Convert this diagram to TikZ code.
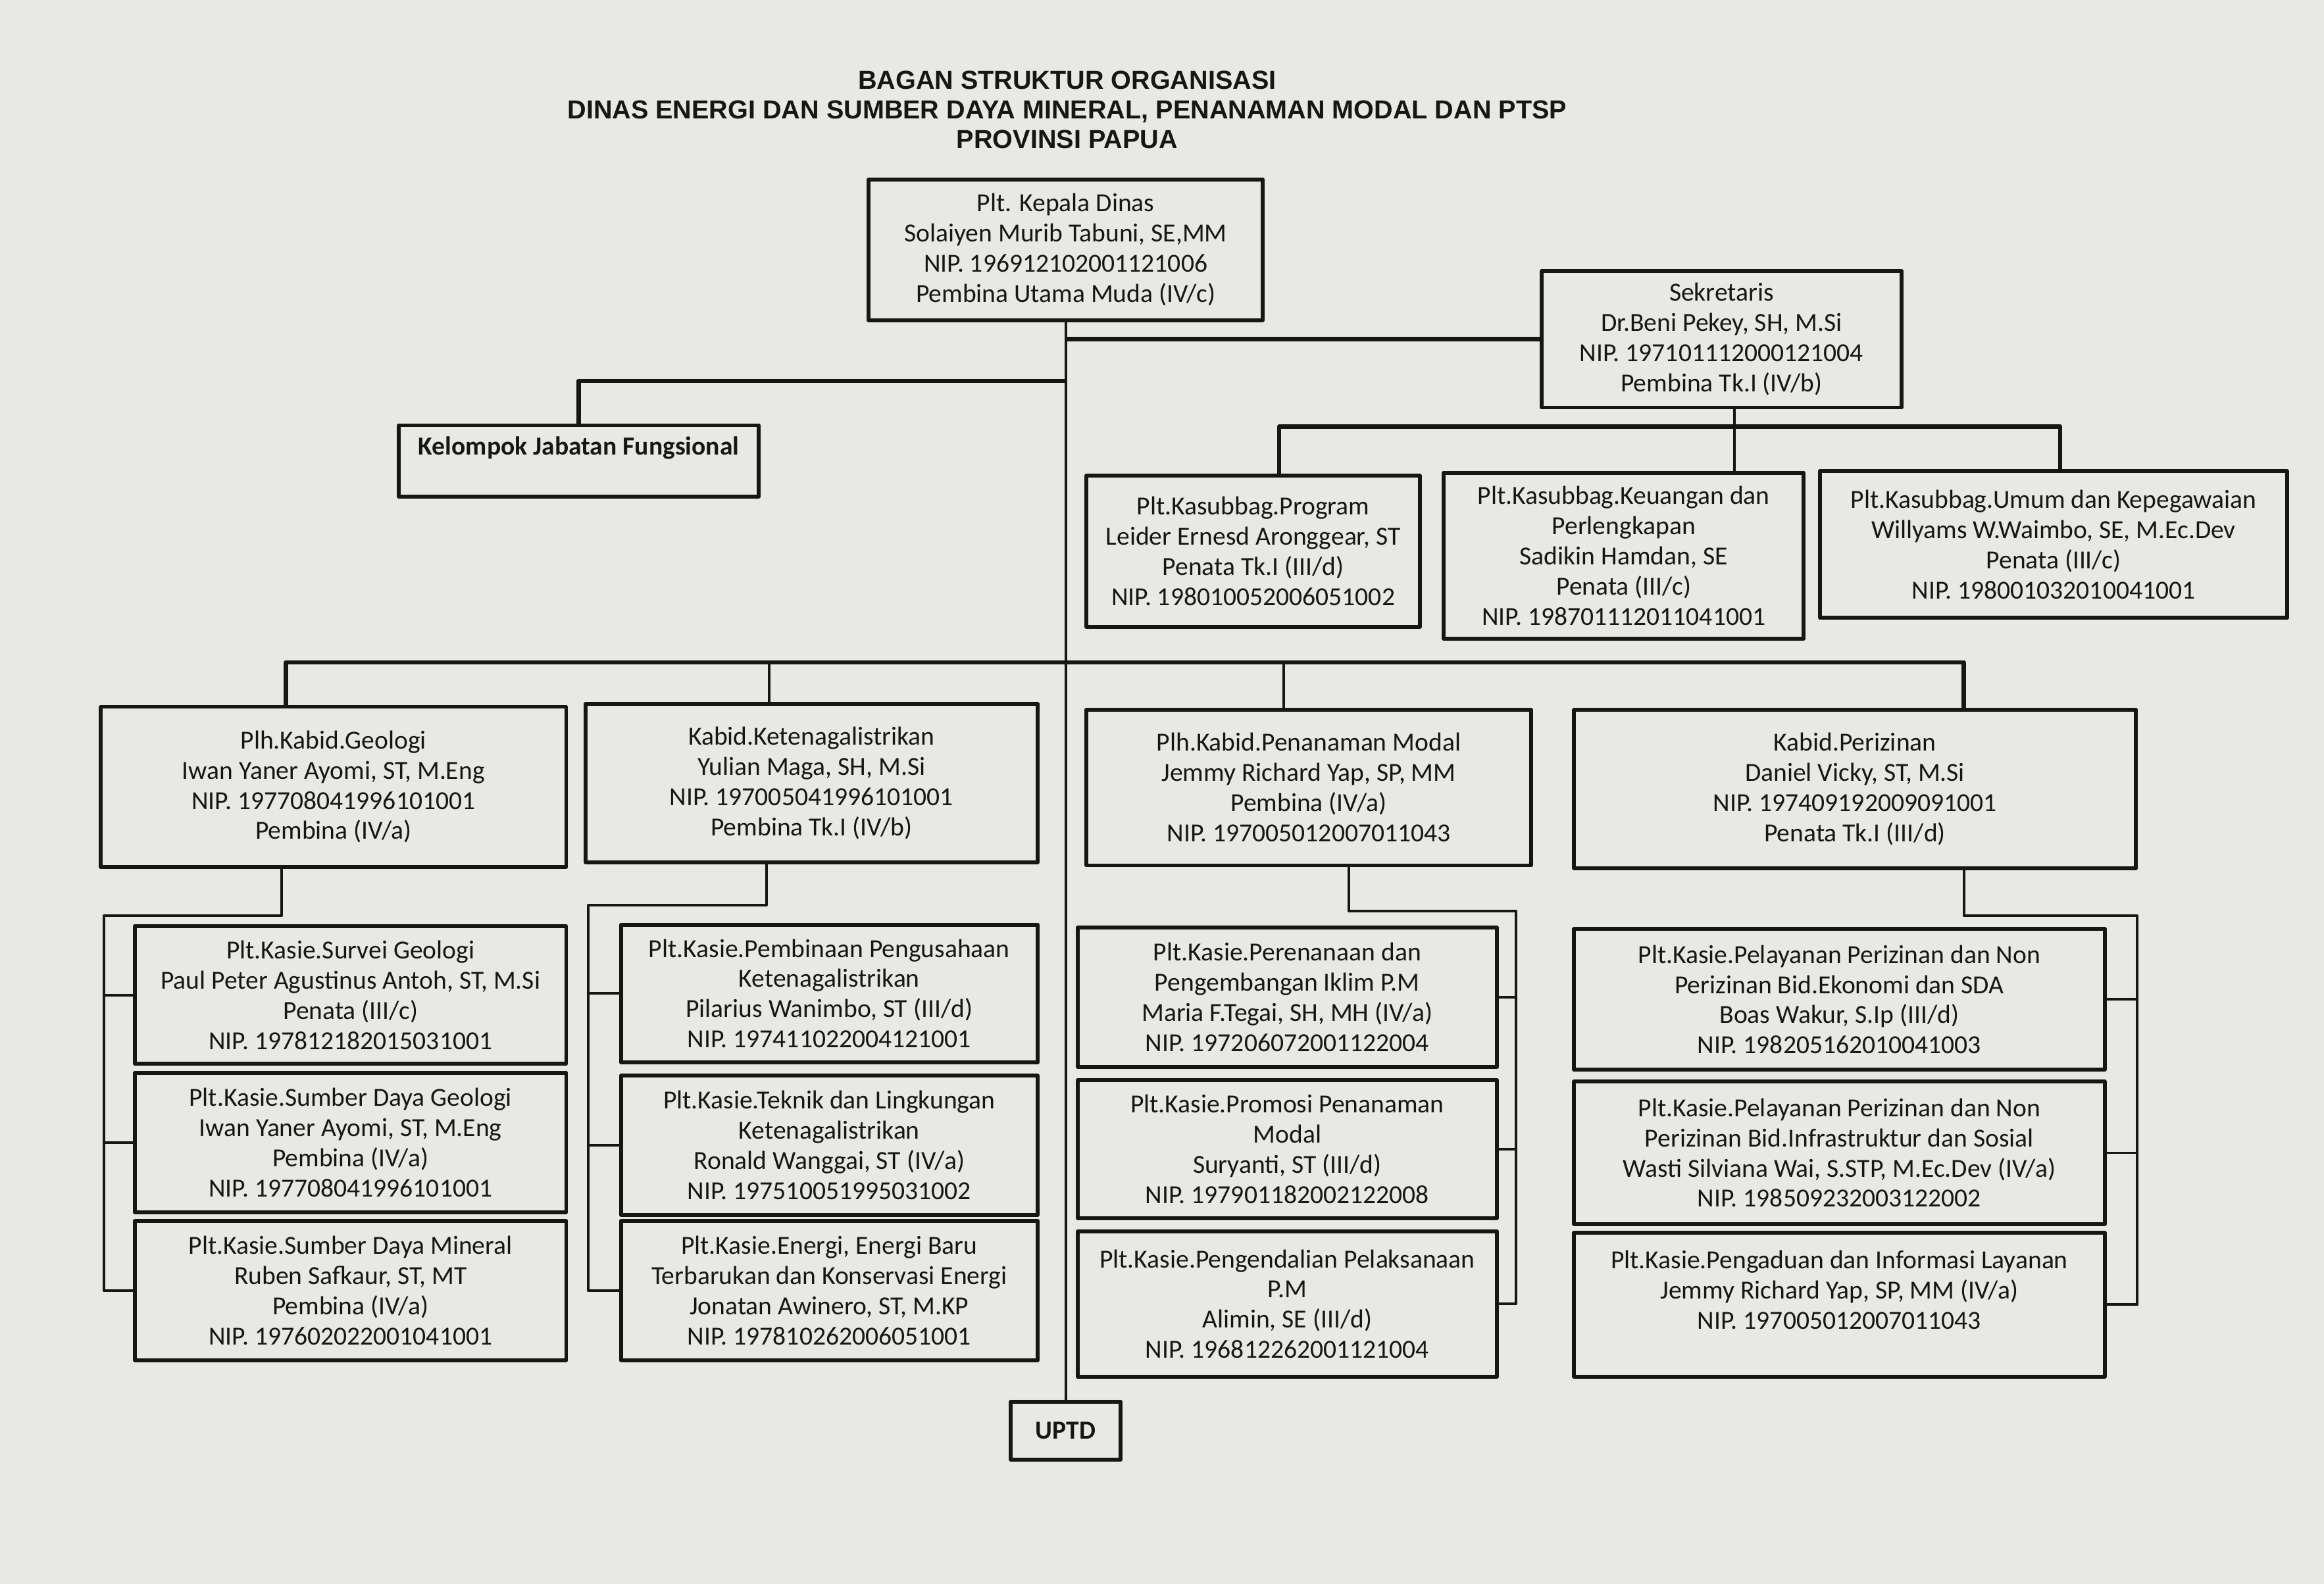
\documentclass[tikz,border=0pt]{standalone}
\usepackage{fontspec}
\setmainfont{Carlito}
\newfontfamily\judul{Liberation Sans}
\definecolor{kertas}{RGB}{232,232,229}
\definecolor{tinta}{RGB}{22,22,22}
\newcommand{\teks}{\fontsize{10}{11.6}\selectfont}
\tikzset{
  kotak/.style 2 args={draw=tinta, line width=1.5pt, inner sep=0pt, align=center, text=tinta,
    minimum width=#1*0.02cm, minimum height=#2*0.02cm},
  garis/.style={draw=tinta, line width=1pt},
  jalur/.style={draw=tinta, line width=1.7pt},
}
\begin{document}
\begin{tikzpicture}[x=0.02cm, y=-0.02cm, font=\teks, line join=round]
    \fill[kertas] (0,0) rectangle (1568,1069);
    \useasboundingbox (0,0) rectangle (1568,1069);
    %judul
    \node[font=\judul\bfseries\fontsize{10}{11.4}\selectfont, align=center, text=tinta] (judul) at (720,74)
        {BAGAN STRUKTUR ORGANISASI\\DINAS ENERGI DAN SUMBER DAYA MINERAL, PENANAMAN MODAL DAN PTSP\\PROVINSI PAPUA};
    %pimpinan
    \node[kotak={266}{95}] (kadis) at (719,168.5) {Plt. Kepala Dinas\\Solaiyen Murib Tabuni, SE,MM\\NIP. 196912102001121006\\Pembina Utama Muda (IV/c)};
    \node[kotak={243}{92}] (sek) at (1161.5,229) {Sekretaris\\Dr.Beni Pekey, SH, M.Si\\NIP. 197101112000121004\\Pembina Tk.I (IV/b)};
    \node[kotak={243}{48}] (kjf) at (390.5,311) {\textbf{Kelompok Jabatan Fungsional}\\\mbox{}};
    \node[kotak={74}{39}] (uptd) at (719,965.5) {\textbf{UPTD}};
    %subbagian
    \node[kotak={225}{102}] (prog) at (845.5,372) {Plt.Kasubbag.Program\\Leider Ernesd Aronggear, ST\\Penata Tk.I (III/d)\\NIP. 198010052006051002};
    \node[kotak={243}{112}] (keu) at (1095.5,375) {Plt.Kasubbag.Keuangan dan\\Perlengkapan\\Sadikin Hamdan, SE\\Penata (III/c)\\NIP. 198701112011041001};
    \node[kotak={315}{99}] (umum) at (1385.5,367.5) {Plt.Kasubbag.Umum dan Kepegawaian\\Willyams W.Waimbo, SE, M.Ec.Dev\\Penata (III/c)\\NIP. 198001032010041001};
    %bidang
    \node[kotak={314}{108}] (geo) at (225,531) {Plh.Kabid.Geologi\\Iwan Yaner Ayomi, ST, M.Eng\\NIP. 197708041996101001\\Pembina (IV/a)};
    \node[kotak={305}{107}] (kelis) at (547.5,528.5) {Kabid.Ketenagalistrikan\\Yulian Maga, SH, M.Si\\NIP. 197005041996101001\\Pembina Tk.I (IV/b)};
    \node[kotak={300}{105}] (pm) at (883,531.5) {Plh.Kabid.Penanaman Modal\\Jemmy Richard Yap, SP, MM\\Pembina (IV/a)\\NIP. 197005012007011043};
    \node[kotak={379}{107}] (izin) at (1251.5,532.5) {Kabid.Perizinan\\Daniel Vicky, ST, M.Si\\NIP. 197409192009091001\\Penata Tk.I (III/d)};
    %seksi geologi
    \node[kotak={291}{93}] (g1) at (236.5,671.5) {Plt.Kasie.Survei Geologi\\Paul Peter Agustinus Antoh, ST, M.Si\\Penata (III/c)\\NIP. 197812182015031001};
    \node[kotak={291}{94}] (g2) at (236.5,771) {Plt.Kasie.Sumber Daya Geologi\\Iwan Yaner Ayomi, ST, M.Eng\\Pembina (IV/a)\\NIP. 197708041996101001};
    \node[kotak={291}{94}] (g3) at (236.5,871) {Plt.Kasie.Sumber Daya Mineral\\Ruben Safkaur, ST, MT\\Pembina (IV/a)\\NIP. 197602022001041001};
    %seksi ketenagalistrikan
    \node[kotak={281}{93}] (k1) at (559.5,670.5) {Plt.Kasie.Pembinaan Pengusahaan\\Ketenagalistrikan\\Pilarius Wanimbo, ST (III/d)\\NIP. 197411022004121001};
    \node[kotak={281}{94}] (k2) at (559.5,773) {Plt.Kasie.Teknik dan Lingkungan\\Ketenagalistrikan\\Ronald Wanggai, ST (IV/a)\\NIP. 197510051995031002};
    \node[kotak={281}{94}] (k3) at (559.5,871) {Plt.Kasie.Energi, Energi Baru\\Terbarukan dan Konservasi Energi\\Jonatan Awinero, ST, M.KP\\NIP. 197810262006051001};
    %seksi penanaman modal
    \node[kotak={283}{94}] (p1) at (868.5,673) {Plt.Kasie.Perenanaan dan\\Pengembangan Iklim P.M\\Maria F.Tegai, SH, MH (IV/a)\\NIP. 197206072001122004};
    \node[kotak={283}{93}] (p2) at (868.5,775.5) {Plt.Kasie.Promosi Penanaman\\Modal\\Suryanti, ST (III/d)\\NIP. 197901182002122008};
    \node[kotak={283}{98}] (p3) at (868.5,880) {Plt.Kasie.Pengendalian Pelaksanaan\\P.M\\Alimin, SE (III/d)\\NIP. 196812262001121004};
    %seksi perizinan
    \node[kotak={358}{95}] (i1) at (1241,674.5) {Plt.Kasie.Pelayanan Perizinan dan Non\\Perizinan Bid.Ekonomi dan SDA\\Boas Wakur, S.Ip (III/d)\\NIP. 198205162010041003};
    \node[kotak={358}{96}] (i2) at (1241,778) {Plt.Kasie.Pelayanan Perizinan dan Non\\Perizinan Bid.Infrastruktur dan Sosial\\Wasti Silviana Wai, S.STP, M.Ec.Dev (IV/a)\\NIP. 198509232003122002};
    \node[kotak={358}{97}] (i3) at (1241,880.5) {Plt.Kasie.Pengaduan dan Informasi Layanan\\Jemmy Richard Yap, SP, MM (IV/a)\\NIP. 197005012007011043\\\mbox{}};
    %garis komando
    \draw[garis] (kadis.south) -- (uptd.north);
    \draw[jalur] (sek.west) -- (sek.west -| kadis.south);
    \coordinate (fj) at (719,257);
    \draw[jalur] (fj) -| (kjf.north);
    \coordinate (sb) at (1170,288);
    \draw[garis] (sek.south -| sb) -- (keu.north -| sb);
    \draw[jalur] (prog.north -| 863,0) |- (sb) -| (umum.north -| 1390,0);
    \coordinate (bus) at (719,447);
    \draw[jalur] (geo.north -| 193,0) |- (bus) -| (izin.north -| 1325,0);
    \draw[garis] (kelis.north -| 519,0) -- (bus -| 519,0);
    \draw[garis] (pm.north -| 866,0) -- (bus -| 866,0);
    %garis seksi
    \draw[garis] (geo.south -| 190,0) |- (70,618) |- (g3.west);
    \draw[garis] (kelis.south -| 517,0) |- (397,611) |- (k3.west);
    \draw[garis] (pm.south -| 910,0) |- (1023,615) |- (p3.east);
    \draw[garis] (izin.south -| 1325,0) |- (1442,618) |- (i3.east);
    \foreach \k in {g1,g2}{
        \draw[garis] (\k.west) -- (\k.west -| 70,0);}
    \foreach \k in {k1,k2}{
        \draw[garis] (\k.west) -- (\k.west -| 397,0);}
    \foreach \k in {p1,p2}{
        \draw[garis] (\k.east) -- (\k.east -| 1023,0);}
    \foreach \k in {i1,i2}{
        \draw[garis] (\k.east) -- (\k.east -| 1442,0);}
\end{tikzpicture}
\end{document}
